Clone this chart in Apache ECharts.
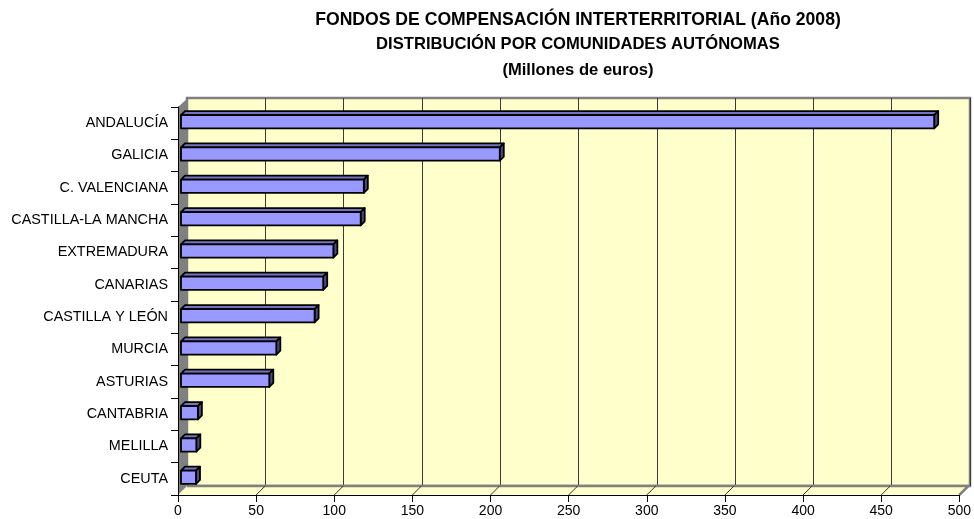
<!DOCTYPE html>
<html>
<head>
<meta charset="utf-8">
<script src="https://cdn.jsdelivr.net/npm/echarts@6/dist/echarts.min.js"></script>
<style>html,body{margin:0;padding:0;background:#fff}#c{width:974px;height:519px}</style>
</head>
<body>
<div id="c"></div>
<script>
// ---- data ----
const categories = ['ANDALUCÍA','GALICIA','C. VALENCIANA','CASTILLA-LA MANCHA','EXTREMADURA','CANARIAS','CASTILLA Y LEÓN','MURCIA','ASTURIAS','CANTABRIA','MELILLA','CEUTA'];
const values = [482, 204, 117, 115, 97.5, 91, 85.5, 61, 56.5, 10.8, 9.8, 9.6];
const xTicks = [0, 50, 100, 150, 200, 250, 300, 350, 400, 450, 500];
const titleLines = ['FONDOS DE COMPENSACIÓN INTERTERRITORIAL (Año 2008)', 'DISTRIBUCIÓN POR COMUNIDADES AUTÓNOMAS', '(Millones de euros)'];

// ---- style / layout ----
const FONT = '"Liberation Sans", Arial, sans-serif';
const D = 9;               // depth of the 3D box
const FRONT = {left: 178, top: 107, width: 783, height: 388};
const BACK = {left: FRONT.left + D, top: FRONT.top - D, width: FRONT.width, height: FRONT.height};

const chart = echarts.init(document.getElementById('c'), null, {renderer: 'canvas'});

function renderDecor(params, api) {
  const cs = params.coordSys;
  const l = cs.x, t = cs.y, b = cs.y + cs.height, r = cs.x + cs.width;
  const children = [
    {type: 'polygon', shape: {points: [[l, t], [l + D + 1, t - D], [l + D + 1, b - D], [l, b]]},
      style: {fill: '#808080'}},
    {type: 'polygon', shape: {points: [[l, b], [r, b], [r + D, b - D], [l + D, b - D]]},
      style: {fill: '#FFFFCC'}},
    {type: 'line', shape: {x1: l + D, y1: b - D, x2: r + D, y2: b - D}, style: {stroke: '#808080', lineWidth: 2.5}},
    {type: 'line', shape: {x1: r, y1: b, x2: r + D, y2: b - D}, style: {stroke: '#808080', lineWidth: 2.5}}
  ];
  xTicks.forEach(function (v) {
    if (v === 0 || v === xTicks[xTicks.length - 1]) return;
    const p = api.coord([v, 0]);
    children.push({type: 'line', shape: {x1: p[0], y1: b, x2: p[0] + D, y2: b - D},
      style: {stroke: '#333', lineWidth: 1}});
  });
  return {type: 'group', children: children};
}

function renderBar(params, api) {
  const v = api.value(0);
  const idx = api.value(1);
  const p0 = api.coord([0, idx]);
  const p1 = api.coord([v, idx]);
  const band = api.size([0, 1])[1];
  const h = band * 0.41;
  const ox = 3, oy = -1.5, d = 4;
  const x0 = p0[0] + ox, x1 = p1[0] + ox;
  const yt = p0[1] - h / 2 + oy, yb = yt + h;
  const st = {stroke: '#000', lineWidth: 1.8, lineJoin: 'round'};
  return {type: 'group', children: [
    {type: 'polygon', shape: {points: [[x0, yt], [x0 + d, yt - d], [x1 + d, yt - d], [x1, yt]]},
      style: Object.assign({fill: '#7373BF'}, st)},
    {type: 'polygon', shape: {points: [[x1, yt], [x1 + d, yt - d], [x1 + d, yb - d], [x1, yb]]},
      style: Object.assign({fill: '#4C4C80'}, st)},
    {type: 'rect', shape: {x: x0, y: yt, width: x1 - x0, height: h},
      style: Object.assign({fill: '#9999FF'}, st)}
  ]};
}

const titleY = [20, 44, 70];
const titleSize = [17.6, 16.6, 16.6];

chart.setOption({
  animation: false,
  backgroundColor: '#ffffff',
  grid: [
    Object.assign({show: true, backgroundColor: '#FFFFCC', borderColor: '#808080', borderWidth: 2.5, z: 0}, BACK),
    Object.assign({show: false}, FRONT)
  ],
  xAxis: [
    {gridIndex: 0, type: 'value', min: 0, max: 500, interval: 50, z: 1,
      axisLine: {show: false}, axisTick: {show: false}, axisLabel: {show: false},
      splitLine: {show: true, lineStyle: {color: '#3a3a3a', width: 1}}},
    {gridIndex: 1, type: 'value', min: 0, max: 500, interval: 50, z: 6,
      axisLine: {show: true, onZero: false, lineStyle: {color: '#000', width: 1}},
      axisTick: {show: true, length: 7, lineStyle: {color: '#000'}},
      axisLabel: {show: true, margin: 9, color: '#000', fontFamily: FONT, fontSize: 14,
        formatter: function (v) { return xTicks.indexOf(v) >= 0 ? String(v) : ''; }},
      splitLine: {show: false}}
  ],
  yAxis: [
    {gridIndex: 0, type: 'category', data: categories, inverse: true, show: false, splitLine: {show: false}},
    {gridIndex: 1, type: 'category', data: categories, inverse: true, z: 6,
      axisLine: {show: true, lineStyle: {color: '#000', width: 1}},
      axisTick: {show: true, length: 7, lineStyle: {color: '#000'}},
      axisLabel: {margin: 10, color: '#000', fontFamily: FONT, fontSize: 14.4},
      splitLine: {show: false}}
  ],
  series: [
    {type: 'custom', xAxisIndex: 1, yAxisIndex: 1, z: 2, silent: true,
      renderItem: renderDecor, data: [[0, 0]], encode: {x: 0, y: 1}},
    {type: 'custom', xAxisIndex: 1, yAxisIndex: 1, z: 3,
      renderItem: renderBar,
      data: values.map(function (v, i) { return [v, i]; }),
      encode: {x: 0, y: 1}}
  ],
  graphic: titleLines.map(function (t, i) {
    return {type: 'text', x: 578, y: titleY[i], z: 10,
      style: {text: t, fill: '#000', font: 'bold ' + titleSize[i] + 'px ' + FONT,
        textAlign: 'center', textVerticalAlign: 'middle'}};
  })
});
</script>
</body>
</html>
